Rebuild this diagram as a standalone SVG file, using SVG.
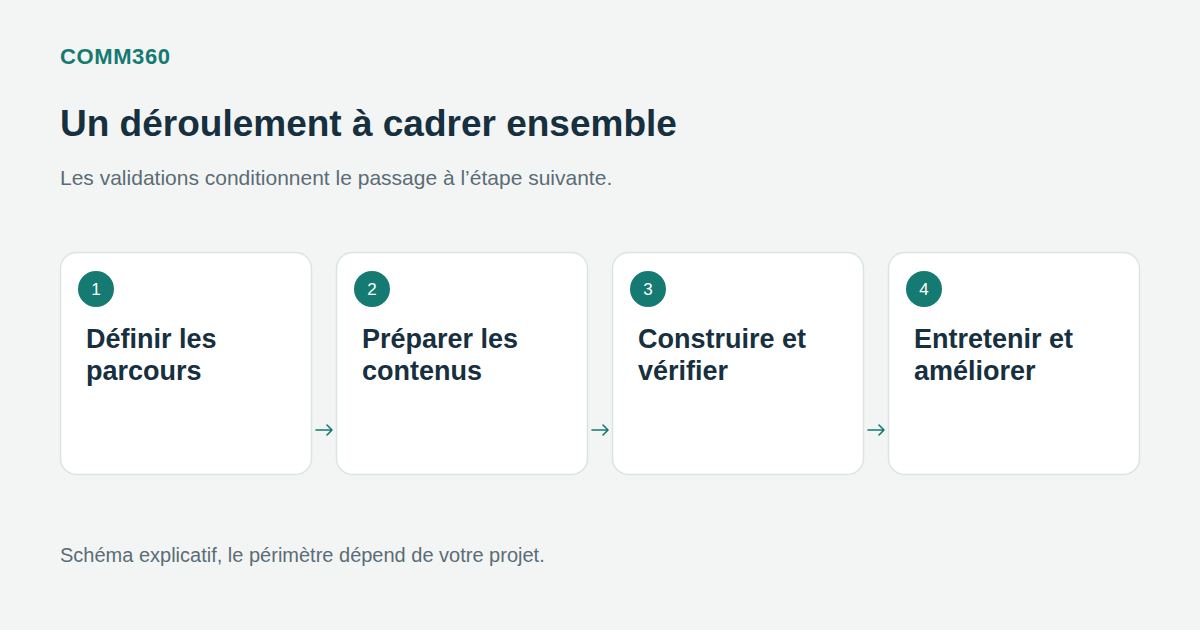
<svg xmlns="http://www.w3.org/2000/svg" width="1200" height="630" viewBox="0 0 1200 630">
<style>
.t{font-family:"Liberation Sans",Arial,sans-serif}
.card{fill:#ffffff;stroke:#dce4e2;stroke-width:1.5}
.num{fill:#157a72}
.numt{fill:#ffffff;font-size:17px;text-anchor:middle}
.ttl{fill:#17303f;font-size:27px;font-weight:bold}
.arr{stroke:#157a72;stroke-width:1.6;fill:none;stroke-linecap:round;stroke-linejoin:round}
</style>
<rect width="1200" height="630" fill="#f3f5f4"/>
<text class="t" x="60" y="64" font-size="22" font-weight="bold" letter-spacing="0.6" fill="#157a72">COMM360</text>
<text class="t" x="60" y="136" font-size="37" font-weight="bold" fill="#17303f">Un déroulement à cadrer ensemble</text>
<text class="t" x="60" y="185" font-size="21" fill="#5b6c76">Les validations conditionnent le passage à l’étape suivante.</text>
<g id="node1">
<rect class="card" x="60.5" y="252.5" width="251" height="222" rx="16"/>
<circle class="num" cx="96" cy="289" r="18"/>
<text class="t numt" x="96" y="295">1</text>
<text class="t ttl" x="86" y="348">Définir les</text>
<text class="t ttl" x="86" y="380">parcours</text>
</g>
<g id="node2">
<rect class="card" x="336.5" y="252.5" width="251" height="222" rx="16"/>
<circle class="num" cx="372" cy="289" r="18"/>
<text class="t numt" x="372" y="295">2</text>
<text class="t ttl" x="362" y="348">Préparer les</text>
<text class="t ttl" x="362" y="380">contenus</text>
</g>
<g id="node3">
<rect class="card" x="612.5" y="252.5" width="251" height="222" rx="16"/>
<circle class="num" cx="648" cy="289" r="18"/>
<text class="t numt" x="648" y="295">3</text>
<text class="t ttl" x="638" y="348">Construire et</text>
<text class="t ttl" x="638" y="380">vérifier</text>
</g>
<g id="node4">
<rect class="card" x="888.5" y="252.5" width="251" height="222" rx="16"/>
<circle class="num" cx="924" cy="289" r="18"/>
<text class="t numt" x="924" y="295">4</text>
<text class="t ttl" x="914" y="348">Entretenir et</text>
<text class="t ttl" x="914" y="380">améliorer</text>
</g>
<g id="connectors">
<path class="arr" d="M316 430H332M327 425L332 430L327 435"/>
<path class="arr" d="M592 430H608M603 425L608 430L603 435"/>
<path class="arr" d="M868 430H884M879 425L884 430L879 435"/>
</g>
<text class="t" x="60" y="562" font-size="20" fill="#5b6c76">Schéma explicatif, le périmètre dépend de votre projet.</text>
</svg>
